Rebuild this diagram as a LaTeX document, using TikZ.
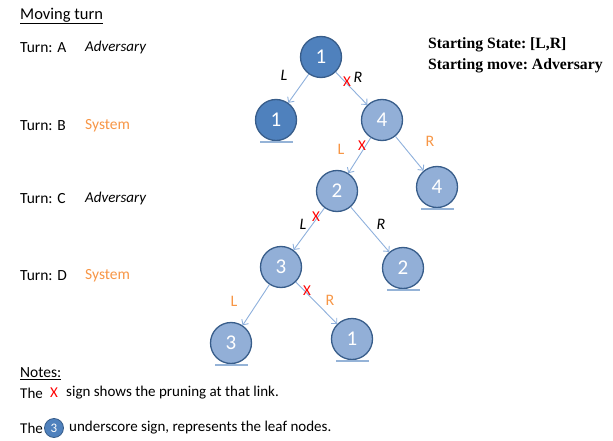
\documentclass[tikz,border=0pt]{standalone}
\usepackage{fontspec}
\setmainfont{Carlito}
\newfontfamily\headfont{Liberation Serif}
\usetikzlibrary{arrows.meta,calc}
\definecolor{darknode}{HTML}{4F81BD}
\definecolor{lightnode}{HTML}{92AFD7}
\definecolor{nodeborder}{HTML}{385D8A}
\definecolor{edgeblue}{HTML}{8EB0DC}
\definecolor{leafblue}{HTML}{95B3D7}
\definecolor{sysorange}{HTML}{F79646}
\definecolor{prune}{HTML}{FF0000}
\tikzset{
  tree/.style={circle, draw=nodeborder, line width=1.3pt, minimum size=41pt, inner sep=0pt,
    text=white, font=\fontsize{21}{21}\selectfont},
  darktree/.style={tree, fill=darknode},
  lighttree/.style={tree, fill=lightnode},
  link/.style={draw=edgeblue, line width=0.9pt, -{Straight Barb[length=4pt,width=8pt]}},
  leafmark/.style={draw=leafblue, line width=1.3pt},
  plain/.style={font=\fontsize{15.5}{18}\selectfont, anchor=west, inner sep=0pt},
  notetext/.style={font=\fontsize{15}{18}\selectfont, anchor=west, inner sep=0pt},
  advlabel/.style={font=\fontsize{15}{18}\selectfont\itshape, anchor=west, inner sep=0pt},
  syslabel/.style={font=\fontsize{15.5}{18}\selectfont, text=sysorange, anchor=west, inner sep=0pt},
  lr/.style={font=\fontsize{16}{18}\selectfont\itshape, inner sep=0pt},
  lrsys/.style={font=\fontsize{16}{18}\selectfont, text=sysorange, inner sep=0pt},
  cut/.style={font=\fontsize{15}{18}\selectfont, text=prune, inner sep=0pt},
  head/.style={font=\headfont\bfseries\fontsize{15.7}{19}\selectfont\frenchspacing, anchor=west, inner sep=0pt},
}
\begin{document}
\begin{tikzpicture}[x=1pt, y=-1pt]
\useasboundingbox (0,0) rectangle (613,441);

% turn legend on the left
\node[plain, font=\fontsize{16.5}{19}\selectfont] (title) at (20,16) {\underline{Moving turn}};
\node[plain] (turnA) at (20,48) {Turn: A};
\node[advlabel] (roleA) at (85,48) {Adversary};
\node[plain] (turnB) at (20,126) {Turn: B};
\node[syslabel] (roleB) at (85,126) {System};
\node[plain] (turnC) at (20,199) {Turn: C};
\node[advlabel] (roleC) at (85,199) {Adversary};
\node[plain] (turnD) at (20,276) {Turn: D};
\node[syslabel] (roleD) at (85,276) {System};

% starting conditions
\node[head] (state) at (428,45) {Starting State: [L,R]};
\node[head] (move) at (428,66) {Starting move: Adversary};

% game tree
\node[darktree] (r) at (321,57) {1};
\node[darktree] (a1) at (276,120) {1};
\node[lighttree] (b4) at (382,120) {4};
\node[lighttree] (c4) at (437,187) {4};
\node[lighttree] (c2) at (337,191) {2};
\node[lighttree] (d2) at (403,268) {2};
\node[lighttree] (d3) at (281,267) {3};
\node[lighttree] (e3) at (231,343) {3};
\node[lighttree] (e1) at (352,339) {1};

\draw[link] (r) -- (a1);
\draw[link] (r) -- (b4);
\draw[link] (b4) -- (c2);
\draw[link] (b4) -- (c4);
\draw[link] (c2) -- (d3);
\draw[link] (c2) -- (d2);
\draw[link] (d3) -- (e3);
\draw[link] (d3) -- (e1);

% branch labels and pruning marks
\node[lr] (l1) at (284,75) {L};
\node[lr] (r1) at (358,77) {R};
\node[cut] (x1) at (347,82) {X};
\node[lrsys] (l2) at (341,149) {L};
\node[cut] (x2) at (362,146) {X};
\node[lrsys] (r2) at (430,141) {R};
\node[lr] (l3) at (303,224) {L};
\node[cut] (x3) at (316,217) {X};
\node[lr] (r3) at (381,224) {R};
\node[lrsys] (l4) at (234,301) {L};
\node[cut] (x4) at (307,291) {X};
\node[lrsys] (r4) at (330,300) {R};

% leaf underscores
\foreach \n in {a1,c4,d2,e3,e1}
  \draw[leafmark] ($(\n.south west)+(-1,7)$) -- ($(\n.south east)+(2,7)$);

% notes
\node[notetext, font=\fontsize{15.5}{18}\selectfont] (notes) at (20,374) {\underline{Notes:}};
\node[notetext] (the1) at (20,393) {The};
\node[cut] (xnote) at (54,393) {X};
\node[notetext] (note1) at (66,393) {sign shows the pruning at that link.};
\node[notetext] (the2) at (20,428) {The};
\node[circle, fill=darknode, draw=nodeborder, line width=0.8pt, minimum size=19pt, inner sep=0pt,
      text=white, font=\fontsize{13}{13}\selectfont] (leafsym) at (54,428) {3};
\node[notetext] (note2) at (69,428) {underscore sign, represents the leaf nodes.};
\end{tikzpicture}
\end{document}
